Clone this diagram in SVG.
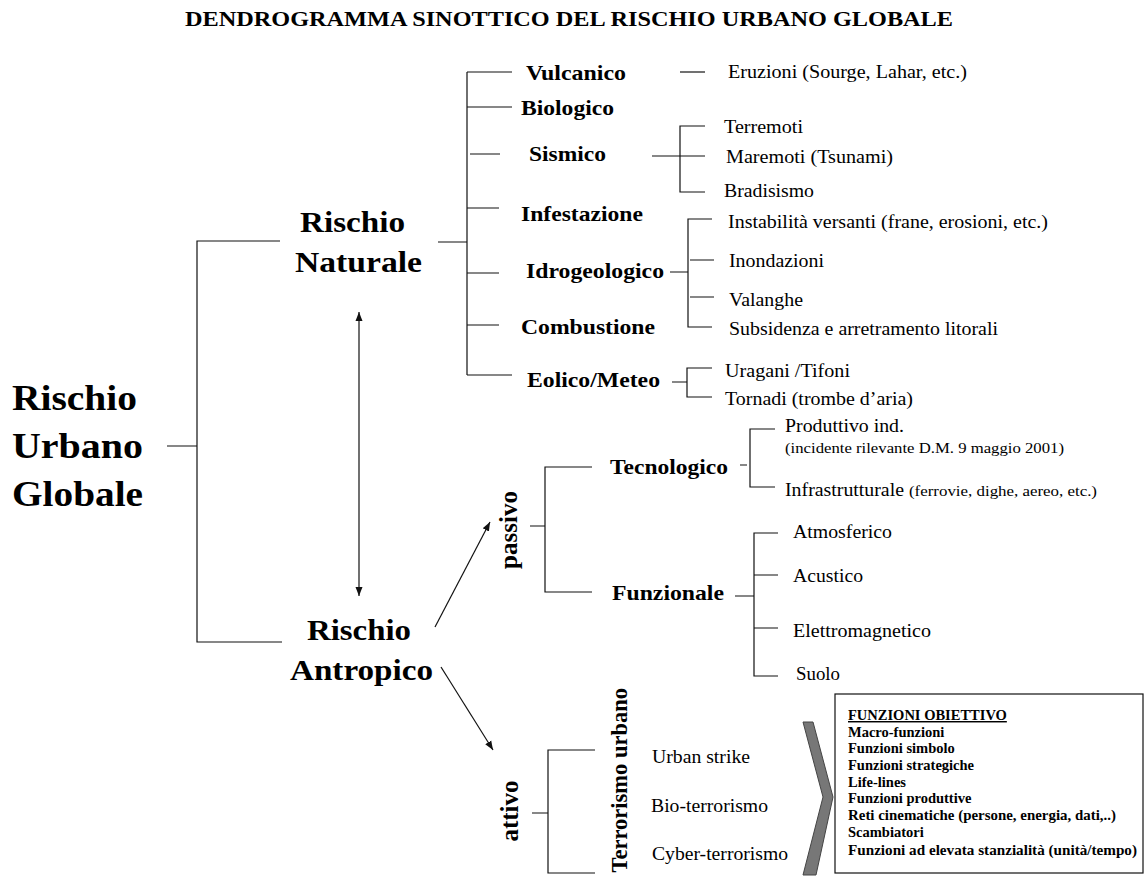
<svg xmlns="http://www.w3.org/2000/svg" width="1147" height="878" viewBox="0 0 1147 878">
<style>
text{font-family:"Liberation Serif",serif;fill:#000}
.title{font-size:22px;font-weight:bold}
.root{font-size:36px;font-weight:bold}
.l2{font-size:30px;font-weight:bold}
.l3{font-size:21px;font-weight:bold}
.rot{font-size:25px;font-weight:bold}
.lf{font-size:18px}
.sm{font-size:15px}
.bx{font-size:14.5px;font-weight:bold}
.c{fill:none;stroke:#111;stroke-width:1.2}
</style>
<defs>
<marker id="ah" markerUnits="userSpaceOnUse" markerWidth="10" markerHeight="10" viewBox="0 0 10 10" refX="9" refY="5" orient="auto-start-reverse">
<path d="M0,1.5 L9,5 L0,8.5 Z" fill="#111"/>
</marker>
</defs>
<rect width="1147" height="878" fill="#fff"/>
<g id="title"><text class="title" x="185" y="26" textLength="768" lengthAdjust="spacingAndGlyphs">DENDROGRAMMA SINOTTICO DEL RISCHIO URBANO GLOBALE</text></g>

<g id="connectors">
<path class="c" d="M167 446 H197 M280 241 H197 V642 H282"/>
<path class="c" d="M438 242 H467 M467 72 V375 M467 72 H512 M467 107 H512 M470 154 H500 M467 208 H499 M467 273 H499 M467 325 H499 M467 375 H512"/>
<path class="c" d="M680 72 H705"/>
<path class="c" d="M652 156 H705 M705 126 H680 V192 H705"/>
<path class="c" d="M670 272 H688 M712 219 H688 V327 H712 M690 260 H714 M690 297 H714"/>
<path class="c" d="M672 382 H687 M712 368 H687 V397 H712"/>
<path class="c" d="M359 312 V596" marker-start="url(#ah)" marker-end="url(#ah)"/>
<path class="c" d="M435 627 L490 522" marker-end="url(#ah)"/>
<path class="c" d="M441 667 L493 750" marker-end="url(#ah)"/>
<path class="c" d="M530 526 H545 M592 467 H545 V592 H592"/>
<path class="c" d="M740 465 H747 M775 429 H750 V487 H775"/>
<path class="c" d="M735 596 H754 M778 533 H754 V676 H778 M754 575 H778 M754 628 H778"/>
<path class="c" d="M532 813 H548 M595 750 H548 V873 H595"/>
</g>

<g id="root"><text class="root" x="12" y="410" textLength="125" lengthAdjust="spacingAndGlyphs">Rischio</text><text class="root" x="12" y="458" textLength="131" lengthAdjust="spacingAndGlyphs">Urbano</text><text class="root" x="12" y="506" textLength="131" lengthAdjust="spacingAndGlyphs">Globale</text></g>

<g id="naturale"><text class="l2" x="300" y="232" textLength="105" lengthAdjust="spacingAndGlyphs">Rischio</text><text class="l2" x="295" y="272" textLength="127" lengthAdjust="spacingAndGlyphs">Naturale</text></g>
<g id="antropico"><text class="l2" x="307" y="640" textLength="104" lengthAdjust="spacingAndGlyphs">Rischio</text><text class="l2" x="290" y="680" textLength="143" lengthAdjust="spacingAndGlyphs">Antropico</text></g>

<g id="vulcanico"><text class="l3" x="526" y="80" textLength="100" lengthAdjust="spacingAndGlyphs">Vulcanico</text></g>
<g id="biologico"><text class="l3" x="521" y="115" textLength="93" lengthAdjust="spacingAndGlyphs">Biologico</text></g>
<g id="sismico"><text class="l3" x="529" y="161" textLength="77" lengthAdjust="spacingAndGlyphs">Sismico</text></g>
<g id="infestazione"><text class="l3" x="521" y="221" textLength="122" lengthAdjust="spacingAndGlyphs">Infestazione</text></g>
<g id="idrogeologico"><text class="l3" x="526" y="278" textLength="138" lengthAdjust="spacingAndGlyphs">Idrogeologico</text></g>
<g id="combustione"><text class="l3" x="521" y="334" textLength="134" lengthAdjust="spacingAndGlyphs">Combustione</text></g>
<g id="eolico"><text class="l3" x="527" y="387" textLength="133" lengthAdjust="spacingAndGlyphs">Eolico/Meteo</text></g>

<g id="eruzioni"><text class="lf" x="728" y="78" textLength="239" lengthAdjust="spacingAndGlyphs">Eruzioni (Sourge, Lahar, etc.)</text></g>
<g id="terremoti"><text class="lf" x="724" y="133" textLength="79" lengthAdjust="spacingAndGlyphs">Terremoti</text></g>
<g id="maremoti"><text class="lf" x="726" y="163" textLength="167" lengthAdjust="spacingAndGlyphs">Maremoti (Tsunami)</text></g>
<g id="bradisismo"><text class="lf" x="724" y="197" textLength="90" lengthAdjust="spacingAndGlyphs">Bradisismo</text></g>
<g id="instabilita"><text class="lf" x="728" y="228" textLength="320" lengthAdjust="spacingAndGlyphs">Instabilità versanti (frane, erosioni, etc.)</text></g>
<g id="inondazioni"><text class="lf" x="729" y="267" textLength="95" lengthAdjust="spacingAndGlyphs">Inondazioni</text></g>
<g id="valanghe"><text class="lf" x="729" y="306" textLength="74" lengthAdjust="spacingAndGlyphs">Valanghe</text></g>
<g id="subsidenza"><text class="lf" x="729" y="335" textLength="269" lengthAdjust="spacingAndGlyphs">Subsidenza e arretramento litorali</text></g>
<g id="uragani"><text class="lf" x="725" y="377" textLength="125" lengthAdjust="spacingAndGlyphs">Uragani /Tifoni</text></g>
<g id="tornadi"><text class="lf" x="725" y="405" textLength="188" lengthAdjust="spacingAndGlyphs">Tornadi (trombe d’aria)</text></g>

<g id="passivo"><text class="rot" transform="translate(517,530) rotate(-90)" text-anchor="middle">passivo</text></g>
<g id="tecnologico"><text class="l3" x="610" y="474" textLength="118" lengthAdjust="spacingAndGlyphs">Tecnologico</text></g>
<g id="funzionale"><text class="l3" x="612" y="600" textLength="112" lengthAdjust="spacingAndGlyphs">Funzionale</text></g>
<g id="produttivo"><text class="lf" x="785" y="432" textLength="119" lengthAdjust="spacingAndGlyphs">Produttivo ind.</text><text class="sm" x="785" y="453" textLength="279" lengthAdjust="spacingAndGlyphs">(incidente rilevante D.M. 9 maggio 2001)</text></g>
<g id="infrastrutturale"><text class="lf" x="785" y="496" textLength="119" lengthAdjust="spacingAndGlyphs">Infrastrutturale</text><text class="sm" x="909" y="496" textLength="188" lengthAdjust="spacingAndGlyphs">(ferrovie, dighe, aereo, etc.)</text></g>
<g id="atmosferico"><text class="lf" x="793" y="538" textLength="99" lengthAdjust="spacingAndGlyphs">Atmosferico</text></g>
<g id="acustico"><text class="lf" x="793" y="582" textLength="70" lengthAdjust="spacingAndGlyphs">Acustico</text></g>
<g id="elettromagnetico"><text class="lf" x="793" y="637" textLength="138" lengthAdjust="spacingAndGlyphs">Elettromagnetico</text></g>
<g id="suolo"><text class="lf" x="796" y="680" textLength="44" lengthAdjust="spacingAndGlyphs">Suolo</text></g>

<g id="attivo"><text class="rot" transform="translate(518,811) rotate(-90)" text-anchor="middle">attivo</text></g>
<g id="terrorismo"><text class="rot" style="font-size:22.5px" transform="translate(627,688) rotate(-90)" text-anchor="end">Terrorismo urbano</text></g>
<g id="urban-strike"><text class="lf" x="652" y="763" textLength="98" lengthAdjust="spacingAndGlyphs">Urban strike</text></g>
<g id="bio"><text class="lf" x="651" y="812" textLength="117" lengthAdjust="spacingAndGlyphs">Bio-terrorismo</text></g>
<g id="cyber"><text class="lf" x="652" y="860" textLength="136" lengthAdjust="spacingAndGlyphs">Cyber-terrorismo</text></g>

<g id="chevron"><polygon points="803,722 813,722 833,797 816,875 803,875 823,797" fill="#777" stroke="#444" stroke-width="1"/></g>

<g id="funzioni-obiettivo">
<rect x="835" y="694" width="308" height="179" fill="#fff" stroke="#111" stroke-width="1.2"/>
<text class="bx" x="848" y="720" text-decoration="underline">FUNZIONI OBIETTIVO</text>
<text class="bx" x="848" y="737">Macro-funzioni</text>
<text class="bx" x="848" y="753">Funzioni simbolo</text>
<text class="bx" x="848" y="770">Funzioni strategiche</text>
<text class="bx" x="848" y="787">Life-lines</text>
<text class="bx" x="848" y="803">Funzioni produttive</text>
<text class="bx" x="848" y="820" textLength="268" lengthAdjust="spacingAndGlyphs">Reti cinematiche (persone, energia, dati,..)</text>
<text class="bx" x="848" y="837">Scambiatori</text>
<text class="bx" x="848" y="855" textLength="289" lengthAdjust="spacingAndGlyphs">Funzioni ad elevata stanzialità (unità/tempo)</text>
</g>
</svg>
